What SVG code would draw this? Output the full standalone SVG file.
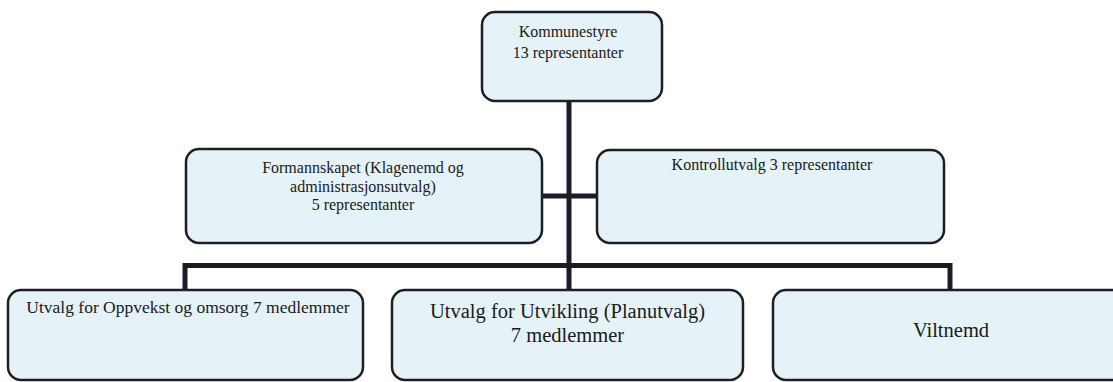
<svg xmlns="http://www.w3.org/2000/svg" width="1113" height="382" viewBox="0 0 1113 382">
<style>
.box{fill:#e5f2f7;stroke:#1e1e26;stroke-width:2.5}
.t{font-family:"Liberation Serif","Times New Roman",serif;fill:#1a1a1a;text-anchor:middle}
.s{font-size:16px}
.m{font-size:17.5px}
.l{font-size:20.5px}
.c{stroke:#1c1c28;stroke-width:5;fill:none}
</style>
<rect width="1113" height="382" fill="#ffffff"/>
<g id="connectors">
<line class="c" x1="569" y1="101" x2="569" y2="290"/>
<line class="c" x1="542" y1="196" x2="597" y2="196"/>
<polyline class="c" points="185,290 185,265.5 950,265.5 950,290"/>
</g>
<g id="kommunestyre">
<rect class="box" x="482" y="12" width="180" height="89" rx="13"/>
<text class="t s" x="568" y="37">Kommunestyre</text>
<text class="t s" x="568" y="58">13 representanter</text>
</g>
<g id="formannskapet">
<rect class="box" x="186" y="149" width="356" height="94" rx="13"/>
<text class="t s" x="363" y="173">Formannskapet (Klagenemd og</text>
<text class="t s" x="363" y="191.5">administrasjonsutvalg)</text>
<text class="t s" x="363" y="210">5 representanter</text>
</g>
<g id="kontrollutvalg">
<rect class="box" x="597" y="150" width="347" height="93" rx="13"/>
<text class="t s" x="772" y="170">Kontrollutvalg 3 representanter</text>
</g>
<g id="oppvekst">
<rect class="box" x="8" y="290" width="355" height="90" rx="13"/>
<text class="t m" x="188" y="313">Utvalg for Oppvekst og omsorg 7 medlemmer</text>
</g>
<g id="utvikling">
<rect class="box" x="392" y="290" width="351" height="90" rx="13"/>
<text class="t l" x="567.5" y="318">Utvalg for Utvikling (Planutvalg)</text>
<text class="t l" x="567.5" y="342">7 medlemmer</text>
</g>
<g id="viltnemd">
<rect class="box" x="773" y="290" width="360" height="90" rx="13"/>
<text class="t l" x="951" y="337">Viltnemd</text>
</g>
</svg>
